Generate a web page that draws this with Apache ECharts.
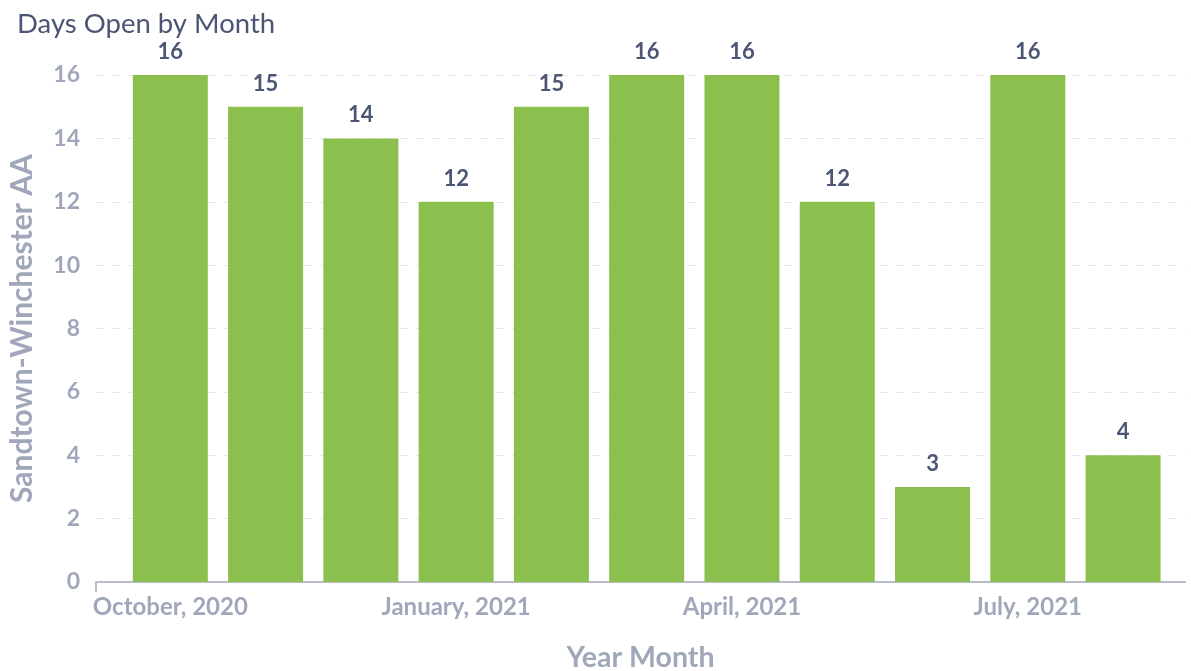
<!DOCTYPE html>
<html><head><meta charset="utf-8">
<script src="https://cdn.jsdelivr.net/npm/echarts@6/dist/echarts.min.js"></script>
<style>html,body{margin:0;padding:0;background:#fff}#c{width:1191px;height:671px}</style>
</head><body><div id="c"></div>
<script>
const months = ["October, 2020","November, 2020","December, 2020","January, 2021","February, 2021","March, 2021","April, 2021","May, 2021","June, 2021","July, 2021","August, 2021"];
const daysOpen = [16,15,14,12,15,16,16,12,3,16,4];
const yTicks = [0,2,4,6,8,10,12,14,16];
const labeledIdx = [0,3,6,9];

const xMin = -0.78, xMax = 10.65;
const chart = echarts.init(document.getElementById('c'));
chart.setOption({
  animation:false,
  textStyle:{fontFamily:'Lato'},
  title:{text:'Days Open by Month',left:12,top:5,textStyle:{fontFamily:'Lato',fontSize:27.5,fontWeight:'normal',color:'#4b5675'}},
  grid:{left:96,right:6,top:75,bottom:89,containLabel:false,outerBoundsMode:'none'},
  xAxis:{type:'value',min:xMin,max:xMax,
    name:'Year Month',nameLocation:'middle',nameGap:61,
    nameTextStyle:{fontFamily:'Lato',fontSize:28.5,fontWeight:'bold',color:'#a0a7ba'},
    axisLine:{show:true,lineStyle:{color:'#b9bdcb',width:2}},
    axisTick:{show:true,customValues:[xMin],length:10,lineStyle:{color:'#b9bdcb',width:2}},
    splitLine:{show:false},
    axisLabel:{customValues:labeledIdx,formatter:v=>months[Math.round(v)]||'',margin:13,
      fontFamily:'Lato',fontSize:24,fontWeight:'bold',color:'#a0a7ba'}
  },
  yAxis:{type:'value',min:0,max:16,interval:2,
    name:'Sandtown-Winchester AA',nameLocation:'middle',nameGap:59,
    nameTextStyle:{fontFamily:'Lato',fontSize:30,fontWeight:'bold',color:'#a0a7ba'},
    axisLine:{show:false},axisTick:{show:false},
    axisLabel:{margin:16,fontFamily:'Lato',fontSize:23,fontWeight:'bold',color:'#a0a7ba'},
    splitLine:{show:true,lineStyle:{color:'#e8e9ee',type:[8,8],width:1}}
  },
  series:[{type:'bar',barWidth:75,
    data:daysOpen.map((v,i)=>[i,v]),
    itemStyle:{color:'#8bbf4e'},
    label:{show:true,position:'top',distance:12,formatter:p=>p.value[1],
      fontFamily:'Lato',fontSize:22,fontWeight:'bold',color:'#4b5675'}
  }]
});
</script></body></html>
